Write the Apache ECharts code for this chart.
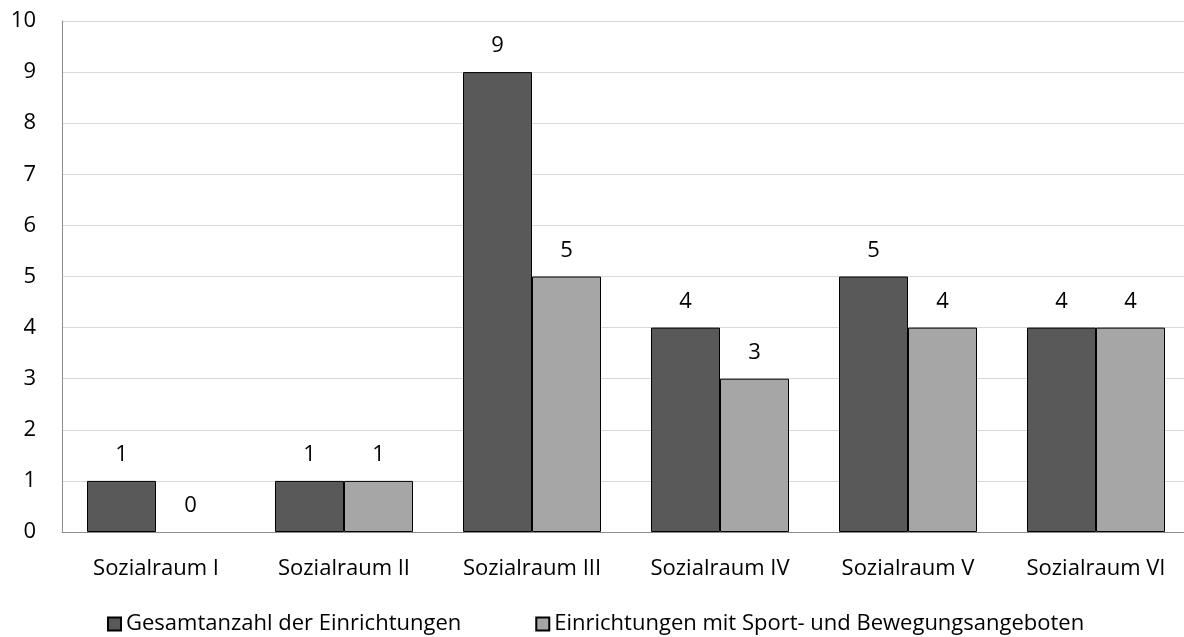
<!DOCTYPE html>
<html><head><meta charset="utf-8">
<script src="https://cdn.jsdelivr.net/npm/echarts@6/dist/echarts.min.js"></script>
<style>html,body{margin:0;padding:0;background:#fff;overflow:hidden}#c{width:1190px;height:637px}</style>
</head><body><div id="c"></div>
<script>
const categories = ["Sozialraum I","Sozialraum II","Sozialraum III","Sozialraum IV","Sozialraum V","Sozialraum VI"];
const gesamt = [1,1,9,4,5,4];
const sport = [0,1,5,3,4,4];
const seriesNames = ["Gesamtanzahl der Einrichtungen","Einrichtungen mit Sport- und Bewegungsangeboten"];
const FONT = "'Open Sans', 'Noto Sans', sans-serif";
const chart = echarts.init(document.getElementById('c'));
const lbl = {show:true, position:'top', distance:15, color:'#000', fontSize:22, fontFamily:FONT};
const toItems = arr => arr.map(v => v === 0 ? {value:v, itemStyle:{borderWidth:0}} : v);
chart.setOption({
  animation:false,
  textStyle:{fontFamily:FONT},
  grid:{left:62, top:21, right:0, height:511, containLabel:false},
  legend:{bottom:2, left:107, padding:0, itemWidth:13, itemHeight:13, itemGap:74, icon:'rect',
    textStyle:{fontSize:22, color:'#000', fontFamily:FONT}, data:seriesNames},
  xAxis:{type:'category', data:categories,
    axisLine:{lineStyle:{color:'#8c8c8c', width:1}}, axisTick:{show:false},
    axisLabel:{fontSize:22, color:'#000', margin:26, fontFamily:FONT}},
  yAxis:{type:'value', min:0, max:10, interval:1,
    axisLine:{show:true, lineStyle:{color:'#8c8c8c'}}, axisTick:{show:false},
    splitLine:{lineStyle:{color:'#d9d9d9'}},
    axisLabel:{fontSize:22, color:'#000', margin:26, fontFamily:FONT}},
  series:[
    {name:seriesNames[0], type:'bar', data:toItems(gesamt), barWidth:69, barGap:'0%',
     itemStyle:{color:'#595959', borderColor:'#000', borderWidth:1}, label:lbl},
    {name:seriesNames[1], type:'bar', data:toItems(sport), barWidth:69,
     itemStyle:{color:'#a6a6a6', borderColor:'#000', borderWidth:1}, label:lbl}
  ]
});
</script></body></html>
